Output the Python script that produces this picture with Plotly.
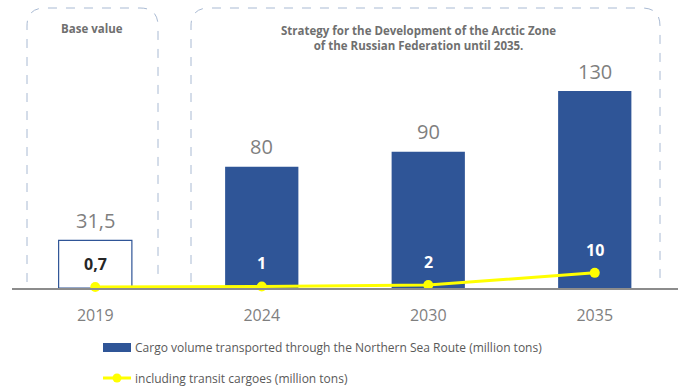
import plotly.graph_objects as go

# Northern Sea Route cargo volumes (million tons)
years = ["2019", "2024", "2030", "2035"]
cargo_volume = [31.5, 80, 90, 130]
transit_cargo = [0.7, 1, 2, 10]
cargo_name = "Cargo volume transported through the Northern Sea Route (million tons)"
transit_name = "including transit cargoes (million tons)"
group_titles = ["Base value",
                "Strategy for the Development of the Arctic Zone<br>of the Russian Federation until 2035."]
transit_label_colors = ["#262626", "white", "white", "white"]

W, H = 678, 389
ML, MR, MT, MB = 12, 0, 0, 101
PW, PH = W - ML - MR, H - MT - MB
BLUE = "#2f5597"
GREY = "#7f7f7f"
FONT = "Open Sans"


def px(x):
    return (x - ML) / PW


def py(y):
    return (H - MB - y) / PH


def fmt(v):
    return f"{v:g}".replace(".", ",")


fig = go.Figure()

fig.add_trace(go.Bar(
    x=years, y=cargo_volume, name=cargo_name, width=0.44,
    marker=dict(color=["white", BLUE, BLUE, BLUE],
                line=dict(color=BLUE, width=[1.2, 0, 0, 0])),
    showlegend=False,
))

fig.add_trace(go.Scatter(
    x=years, y=transit_cargo, name=transit_name,
    mode="lines+markers",
    line=dict(color="#ffff00", width=3),
    marker=dict(color="#ffff00", size=10),
    cliponaxis=False,
    showlegend=False,
))


def rounded_top_box(x0, x1, y0, y1, r):
    rx, ry = r / PW, r / PH
    X0, X1, Y0, Y1 = px(x0), px(x1), py(y0), py(y1)
    return (f"M{X0},{Y1} L{X0},{Y0 - ry} Q{X0},{Y0} {X0 + rx},{Y0} "
            f"L{X1 - rx},{Y0} Q{X1},{Y0} {X1},{Y0 - ry} L{X1},{Y1}")


shapes = []
for x0, x1 in [(27, 158), (191, 660)]:
    shapes.append(dict(type="path", xref="paper", yref="paper",
                       path=rounded_top_box(x0, x1, 8, 282, 18),
                       line=dict(color="#a9bad3", width=1, dash="dash")))

# legend swatches
shapes.append(dict(type="rect", xref="paper", yref="paper",
                   x0=px(103), x1=px(131), y0=py(352), y1=py(343),
                   fillcolor=BLUE, line=dict(width=0)))
shapes.append(dict(type="line", xref="paper", yref="paper",
                   x0=px(103), x1=px(131), y0=py(378), y1=py(378),
                   line=dict(color="#ffff00", width=3)))
shapes.append(dict(type="circle", xref="paper", yref="paper",
                   x0=px(112.5), x1=px(121.5), y0=py(382.5), y1=py(373.5),
                   fillcolor="#ffff00", line=dict(width=0)))

annotations = [
    dict(text=group_titles[0], x=px(92), y=py(29), xref="paper", yref="paper",
         showarrow=False, xanchor="center", yanchor="middle",
         font=dict(family=FONT, size=11.5, color="#6f6f6f", weight="bold")),
    dict(text=group_titles[1], x=px(418), y=py(38), xref="paper", yref="paper",
         showarrow=False, xanchor="center", yanchor="middle", align="center",
         font=dict(family=FONT, size=11.5, color="#6f6f6f", weight="bold")),
    dict(text=cargo_name, x=px(133), y=py(347), xref="paper", yref="paper",
         showarrow=False, xanchor="left", yanchor="middle",
         font=dict(family=FONT, size=12, color="#595959")),
    dict(text=transit_name, x=px(133), y=py(378), xref="paper", yref="paper",
         showarrow=False, xanchor="left", yanchor="middle",
         font=dict(family=FONT, size=12, color="#595959")),
]

# value labels above the bars (x given as category index)
for i, v in enumerate(cargo_volume):
    annotations.append(dict(text=fmt(v), x=i, y=v, xref="x", yref="y",
                            showarrow=False, yanchor="middle", yshift=20,
                            font=dict(family=FONT, size=20, color=GREY)))

# value labels above the transit line points
for i, (v, c) in enumerate(zip(transit_cargo, transit_label_colors)):
    annotations.append(dict(text=fmt(v), x=i, y=v, xref="x", yref="y",
                            showarrow=False, yanchor="middle", yshift=23,
                            font=dict(family=FONT, size=16, color=c, weight="bold")))

fig.update_layout(
    width=W, height=H,
    margin=dict(l=ML, r=MR, t=MT, b=MB),
    paper_bgcolor="white", plot_bgcolor="white",
    separators=", ",
    shapes=shapes, annotations=annotations,
    xaxis=dict(type="category", range=[-0.5, len(years) - 0.5],
               showline=True, linecolor="#8c8c8c", linewidth=1.5,
               ticks="", showgrid=False, zeroline=False, ticklabelstandoff=12,
               tickfont=dict(family=FONT, size=16, color=GREY)),
    yaxis=dict(range=[0, PH / 1.515], visible=False, showgrid=False, zeroline=False),
)

fig.write_html("out.html")
